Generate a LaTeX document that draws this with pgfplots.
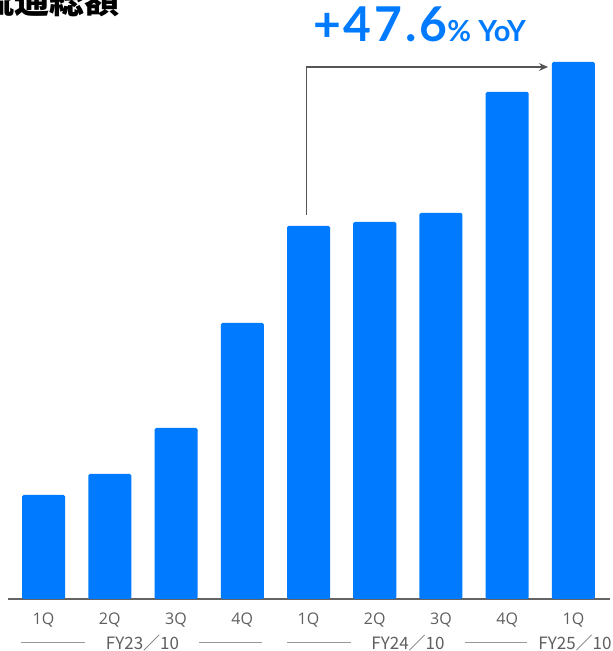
\documentclass[border=0pt]{standalone}
\usepackage{fontspec}
\usepackage{pgfplots}
\pgfplotsset{compat=1.18}
\usetikzlibrary{arrows.meta}
\setmainfont{Open Sans}
\newfontfamily\cjk{Noto Sans CJK JP}
\newfontfamily\lato{Lato}
\newfontfamily\latowide{Lato}[LetterSpace=6]
\definecolor{barblue}{RGB}{0,122,255}
\definecolor{axgray}{RGB}{100,100,100}
\definecolor{txtgray}{RGB}{95,95,95}
\definecolor{arrgray}{RGB}{85,85,85}
\begin{document}
\begin{tikzpicture}[x=1pt,y=1pt]
\useasboundingbox (0,0) rectangle (613,651);
\begin{axis}[
  at={(8pt,52pt)}, anchor=south west,
  scale only axis, width=602pt, height=548pt,
  xmin=-0.536, xmax=8.551, ymin=0, ymax=548,
  axis x line*=bottom, axis y line=none,
  x axis line style={draw=axgray, line width=1.5pt, -},
  xtick={0,...,8},
  xticklabels={1Q,2Q,3Q,4Q,1Q,2Q,3Q,4Q,1Q},
  major tick length=0pt,
  xticklabel style={font=\fontsize{16}{16}\selectfont, text=txtgray, anchor=base, yshift=-25pt},
  ytick=\empty,
  clip=false,
]
\addplot[ybar, bar width=43pt, fill=barblue, draw=none, rounded corners=1.5pt]
  coordinates {(0,104) (1,125) (2,171) (3,276) (4,373) (5,377) (6,386) (7,507) (8,537)};
\draw[arrgray, line width=1.3pt, -{Stealth[length=9pt,width=8pt,inset=3pt]}]
  (axis cs:3.97,384) -- (axis cs:3.97,532) -- (axis cs:7.615,532);
\end{axis}
% group labels
\begin{scope}[txtgray]
\draw[line width=1pt, color=gray!80] (21,8) -- (85,8);
\draw[line width=1pt, color=gray!80] (199,8) -- (262,8);
\draw[line width=1pt, color=gray!80] (287,8) -- (351,8);
\draw[line width=1pt, color=gray!80] (465,8) -- (527,8);
\node[anchor=base, inner sep=0pt, font=\cjk\fontsize{17}{17}\selectfont] at (142.5,1.5) {FY23／10};
\node[anchor=base, inner sep=0pt, font=\cjk\fontsize{17}{17}\selectfont] at (408,1.5) {FY24／10};
\node[anchor=base, inner sep=0pt, font=\cjk\fontsize{17}{17}\selectfont] at (575,1.5) {FY25／10};
\end{scope}
% YoY annotation
\node[anchor=base west, inner sep=0pt, text=barblue] at (313,609)
  {{\latowide\bfseries\fontsize{48}{48}\selectfont +47.6}{\lato\bfseries\fontsize{29}{29}\selectfont\% YoY}};
% title (cropped at the left)
\node[anchor=base east, inner sep=0pt] at (120,637)
  {\cjk\bfseries\fontsize{35}{35}\selectfont 流通総額};
\end{tikzpicture}
\end{document}
